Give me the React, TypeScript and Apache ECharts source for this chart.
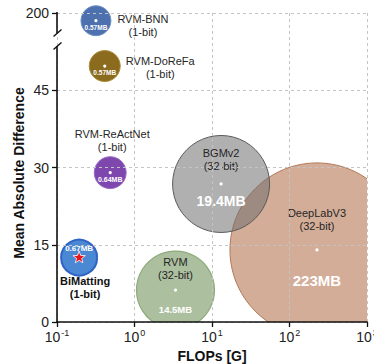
import React, { useEffect, useRef } from 'react';
import * as echarts from 'echarts';

// ---- data ----
const models = ['DeepLabV3', 'BGMv2', 'RVM', 'RVM-ReActNet', 'RVM-DoReFa', 'RVM-BNN', 'BiMatting'];
const bits = ['32-bit', '32-bit', '32-bit', '1-bit', '1-bit', '1-bit', '1-bit'];
const flopsG = [226, 13.1, 3.38, 0.486, 0.413, 0.318, 0.193];
const meanAbsDiff = [14.0, 26.8, 6.2, 29.0, 49.7, 194, 12.5];
const modelSizeLabels = ['223MB', '19.4MB', '14.5MB', '0.64MB', '0.57MB', '0.57MB', '0.67MB'];
const bubbleDiameters = [174, 97, 78, 32, 31, 30, 36];
const xTickExponents = [-1, 0, 1, 2, 3];
const yTopLabel = '200';
const xAxisTitle = 'FLOPs [G]';
const yAxisTitle = 'Mean Absolute Difference';

// ---- styles / layout (not data) ----
const FONT = '"Liberation Sans", Arial, Helvetica, sans-serif';
const bubbleStyles = [
  { fill: 'rgba(186,122,88,0.62)', stroke: '#b27a58', lw: 1, nameDx: 0, nameDy: -30, sizeDy: 31, sizeFont: 15, bold: false, star: false },
  { fill: 'rgba(112,112,112,0.55)', stroke: '#5a5a5a', lw: 1, nameDx: 0, nameDy: -24.5, sizeDy: 17, sizeFont: 14, bold: false, star: false },
  { fill: 'rgba(132,160,112,0.68)', stroke: '#8eab7c', lw: 1.2, nameDx: 0, nameDy: -21.5, sizeDy: 19, sizeFont: 9.5, bold: false, star: false },
  { fill: '#7e47ae', stroke: '#9b6cc6', lw: 1, nameDx: 2, nameDy: -32.5, sizeDy: 7, sizeFont: 7, bold: false, star: false },
  { fill: '#8b6b1d', stroke: '#ab8b38', lw: 1, nameDx: 55.5, nameDy: 1, sizeDy: 6, sizeFont: 6.5, bold: false, star: false },
  { fill: '#4d70ae', stroke: '#6f8ec6', lw: 1, nameDx: 47, nameDy: 4.5, sizeDy: 7, sizeFont: 6.5, bold: false, star: false },
  { fill: '#4a88d4', stroke: '#2f63c6', lw: 2, nameDx: 6, nameDy: 30, sizeDy: -9, sizeFont: 8, bold: true, star: true },
];

// broken y axis: values above the break are compressed into the top band
const Y_MAX_AXIS = 60;
const toAxisY = (v: number) => (v > Y_MAX_AXIS ? Y_MAX_AXIS - (Number(yTopLabel) - v) * 0.25 : v);

function starPoints(cx: number, cy: number, R: number, r: number) {
  const pts: number[][] = [];
  for (let k = 0; k < 10; k++) {
    const rad = k % 2 === 0 ? R : r;
    const a = -Math.PI / 2 + (k * Math.PI) / 5;
    pts.push([cx + rad * Math.cos(a), cy + rad * Math.sin(a)]);
  }
  return pts;
}

const renderBubble = (_params: any, api: any) => {
  const i = api.value(2);
  const [cx, cy] = api.coord([api.value(0), api.value(1)]);
  const st = bubbleStyles[i];
  const r = bubbleDiameters[i] / 2;
  const children: any[] = [
    { type: 'circle', shape: { cx, cy, r }, style: { fill: st.fill, stroke: st.stroke, lineWidth: st.lw } },
  ];
  if (st.star) {
    children.push({
      type: 'polygon',
      shape: { points: starPoints(cx, cy, 6.5, 2.7) },
      style: { fill: '#e8141c', stroke: '#ffffff', lineWidth: 0.8 },
    });
  } else {
    children.push({ type: 'circle', shape: { cx, cy, r: 1.6 }, style: { fill: '#ffffff' } });
  }
  children.push({
    type: 'text',
    x: cx,
    y: cy + st.sizeDy,
    style: {
      text: modelSizeLabels[i], fill: '#ffffff', fontSize: st.sizeFont, fontWeight: 'bold',
      fontFamily: FONT, align: 'center', verticalAlign: 'middle',
    },
  });
  children.push({
    type: 'text',
    x: cx + st.nameDx,
    y: cy + st.nameDy,
    style: {
      text: `${models[i]}\n(${bits[i]})`, fill: st.bold ? '#111' : '#262626', fontSize: 11,
      fontWeight: st.bold ? 'bold' : 'normal', fontFamily: FONT, align: 'center',
      verticalAlign: 'middle', lineHeight: 13,
    },
  });
  return { type: 'group', children };
};

const TOP_INDEX = models.indexOf('RVM-BNN');
const allPoints = models.map((_, i) => [flopsG[i], toAxisY(meanAbsDiff[i]), i]);
const clippedPoints = allPoints.filter((p) => p[2] !== TOP_INDEX);
const topPoints = allPoints.filter((p) => p[2] === TOP_INDEX);

export default function App() {
  const ref = useRef<HTMLDivElement>(null);
  useEffect(() => {
    document.body.style.margin = '0';
    const chart = echarts.init(ref.current!, null, { renderer: 'svg' });
    const axisColor = '#111';
    const option: any = {
      animation: false,
      textStyle: { fontFamily: FONT },
      grid: { left: 57, right: 7, top: 13, bottom: 42, containLabel: false, outerBoundsMode: 'none' },
      xAxis: {
        type: 'log',
        logBase: 10,
        min: Math.pow(10, xTickExponents[0]),
        max: Math.pow(10, xTickExponents[xTickExponents.length - 1]),
        name: xAxisTitle,
        nameLocation: 'middle',
        nameGap: 22,
        nameTextStyle: { fontSize: 14, fontWeight: 'bold', color: '#111', fontFamily: FONT },
        axisLine: { show: true, onZero: false, lineStyle: { color: axisColor, width: 1.6 } },
        axisTick: { show: true, inside: false, length: 5, lineStyle: { color: axisColor, width: 1.3 } },
        minorTick: { show: false },
        axisLabel: {
          margin: 6,
          color: '#222',
          formatter: (v: number) => `{b|10}{s|${Math.round(Math.log10(v))}}`,
          rich: {
            b: { fontSize: 14, color: '#222', fontFamily: FONT, lineHeight: 18 },
            s: { fontSize: 9, color: '#222', fontFamily: FONT, verticalAlign: 'top', padding: [0, 0, 0, 1] },
          },
        },
        splitLine: { show: true, lineStyle: { color: '#c4c4c4', type: [3, 3], width: 1 } },
        z: 10,
      },
      yAxis: {
        type: 'value',
        min: 0,
        max: Y_MAX_AXIS,
        interval: 15,
        axisLine: { show: false },
        axisTick: { show: true, inside: false, length: 5, lineStyle: { color: axisColor, width: 1.3 } },
        axisLabel: {
          margin: 8,
          fontSize: 14,
          color: '#222',
          fontFamily: FONT,
          formatter: (v: number) => (v === Y_MAX_AXIS ? yTopLabel : String(v)),
        },
        splitLine: { show: true, lineStyle: { color: '#c4c4c4', type: [3, 3], width: 1 } },
        z: 10,
      },
      graphic: [
        {
          type: 'text', x: 19, y: 173, rotation: Math.PI / 2, z: 20,
          style: {
            text: yAxisTitle, fill: '#111', fontSize: 14, fontWeight: 'bold', fontFamily: FONT,
            align: 'center', verticalAlign: 'middle',
          },
        },
        { type: 'line', shape: { x1: 57, y1: 12, x2: 57, y2: 33 }, style: { stroke: axisColor, lineWidth: 1.6 }, z: 20 },
        { type: 'line', shape: { x1: 53.5, y1: 36.5, x2: 61.5, y2: 29.5 }, style: { stroke: axisColor, lineWidth: 1.4 }, z: 20 },
        { type: 'line', shape: { x1: 53.5, y1: 49.5, x2: 61.5, y2: 42.5 }, style: { stroke: axisColor, lineWidth: 1.4 }, z: 20 },
        { type: 'line', shape: { x1: 57, y1: 46, x2: 57, y2: 322.5 }, style: { stroke: axisColor, lineWidth: 1.6 }, z: 20 },
      ],
      series: [
        {
          type: 'custom',
          clip: true,
          silent: true,
          encode: { x: 0, y: 1 },
          renderItem: renderBubble,
          data: clippedPoints,
          z: 2,
        },
        {
          type: 'custom',
          clip: false,
          silent: true,
          encode: { x: 0, y: 1 },
          renderItem: renderBubble,
          data: topPoints,
          z: 3,
        },
      ],
    };
    chart.setOption(option);
    return () => chart.dispose();
  }, []);
  return <div ref={ref} style={{ width: 374, height: 364 }} />;
}
